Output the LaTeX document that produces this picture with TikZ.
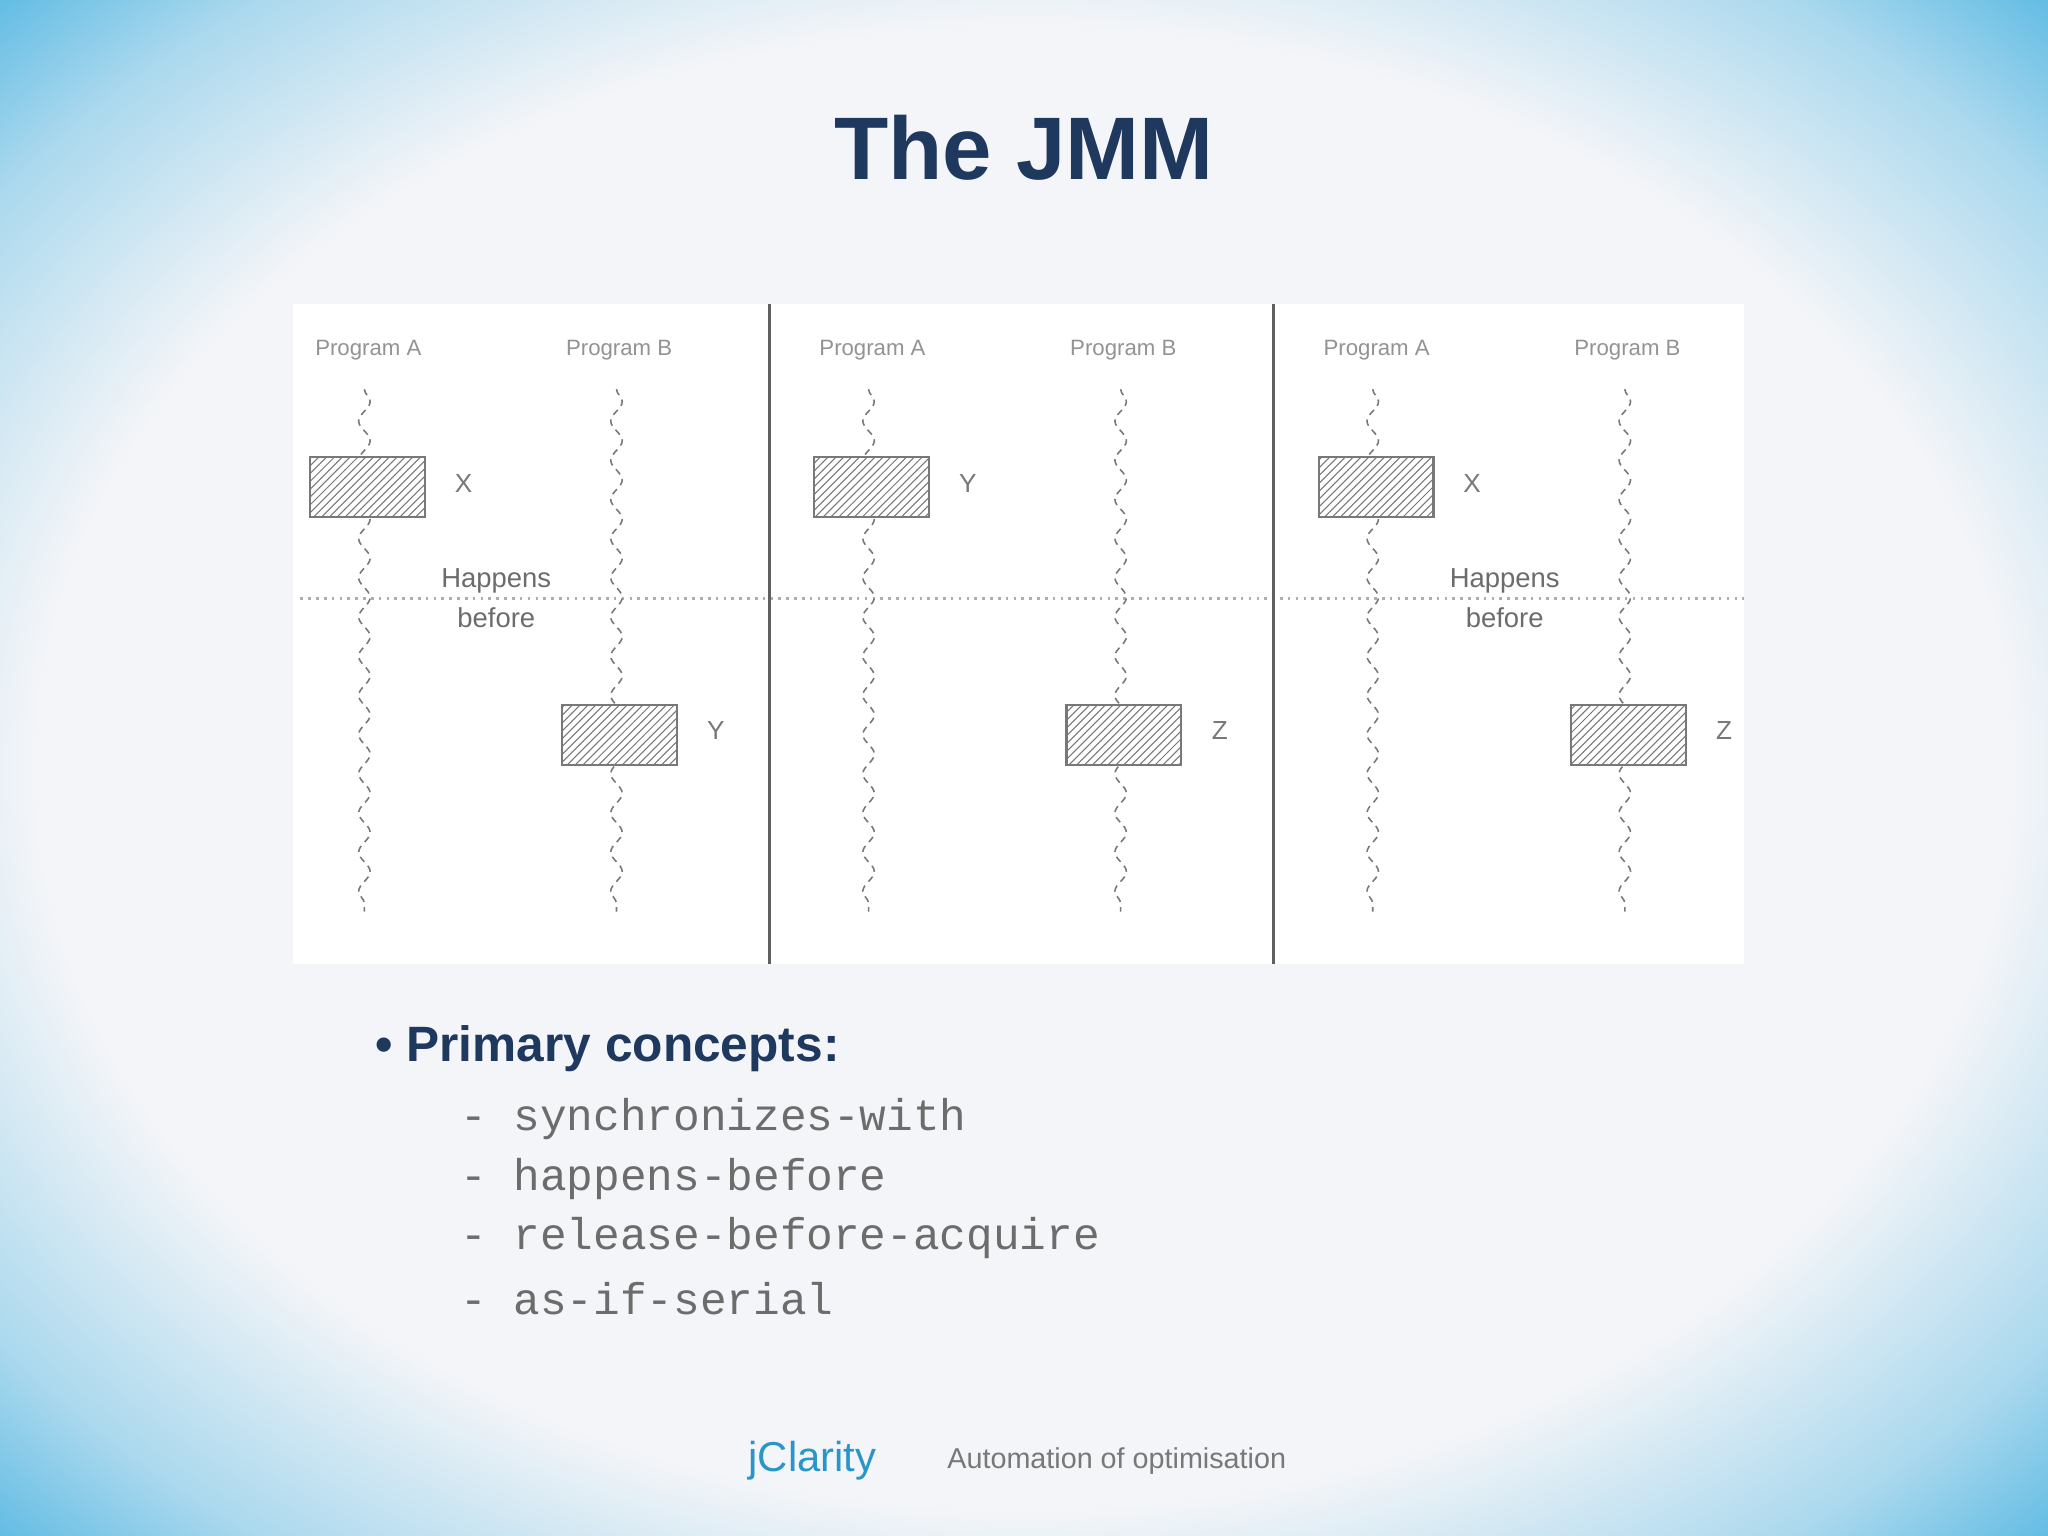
\documentclass[tikz,border=0pt]{standalone}
\usepackage{fontspec}
\setmainfont{Liberation Sans}
\newfontfamily\monofont{Liberation Mono}
\usetikzlibrary{patterns,decorations.pathmorphing}
\definecolor{navy}{RGB}{31,56,94}
\definecolor{skyblue}{RGB}{0,150,214}
\definecolor{paleback}{RGB}{244,245,248}
\definecolor{diagray}{RGB}{120,120,120}
\definecolor{clarity}{RGB}{40,150,200}
\tikzset{every picture/.style={line width=0.75pt}}
\tikzset{
  thread/.style={draw=diagray,dashed,dash pattern=on 2.5pt off 2pt,line width=0.6pt,
    decorate,decoration={snake,amplitude=2.2pt,segment length=15pt}},
  action/.style={draw=diagray,fill=white,line width=0.8pt,minimum width=44pt,minimum height=23pt,
    postaction={pattern=north east lines,pattern color=diagray}},
  proglabel/.style={text=diagray!80,font=\fontsize{8.5}{10}\selectfont},
  varlabel/.style={text=diagray,font=\fontsize{10}{12}\selectfont},
  hblabel/.style={text=diagray!90!black,font=\fontsize{10.5}{12}\selectfont,align=center},
  concept/.style={anchor=west,text=diagray!90!black,font=\monofont\fontsize{17}{20}\selectfont}
}
\pgfdeclareradialshading{slideback}{\pgfpoint{0cm}{0cm}}{%
  color(0cm)=(paleback); color(0.85cm)=(paleback); color(1.1cm)=(skyblue!30!paleback);
  color(1.35cm)=(skyblue!80!paleback); color(1.55cm)=(skyblue); color(2.5cm)=(skyblue)}

\begin{document}
\begin{tikzpicture}[x=0.5pt,y=0.5pt,yscale=-1,xscale=1]
% background
\shade[shading=slideback] (0,0) rectangle (1568,1176);
\useasboundingbox (0,0) rectangle (1568,1176);

% title
\node (title) [text=navy,font=\bfseries\fontsize{34}{40}\selectfont] at (784,113) {The JMM};

% diagram panel
\fill[white] (224,233) rectangle (1335,738);
\draw[diagray!60,dotted,line width=1pt] (230,458) -- (1335,458);
\draw[diagray!80!black,line width=1pt] (589,233) -- (589,738);
\draw[diagray!80!black,line width=1pt] (975,233) -- (975,738);

\foreach \dx/\la/\lb/\hb [count=\i] in {0/X/Y/1,386/Y/Z/0,772/X/Z/1}{
  \node (progA\i) [proglabel] at (282+\dx,268) {Program A};
  \node (progB\i) [proglabel] at (474+\dx,268) {Program B};
  \coordinate (topA\i) at (279+\dx,298);
  \coordinate (botA\i) at (279+\dx,698);
  \coordinate (topB\i) at (472+\dx,298);
  \coordinate (botB\i) at (472+\dx,698);
  \path[thread] (topA\i) -- (botA\i);
  \path[thread] (topB\i) -- (botB\i);
  \node (boxA\i) [action] at (281.5+\dx,373) {};
  \node (boxB\i) [action] at (474.5+\dx,562.5) {};
  \node (varA\i) [varlabel] at (355+\dx,370) {\la};
  \node (varB\i) [varlabel] at (548+\dx,559) {\lb};
  \ifnum\hb=1
    \node (hb\i) [hblabel] at (380+\dx,458) {Happens\\[3pt]before};
  \fi
}

% bullet list
\node (primary) [anchor=west,text=navy,font=\bfseries\fontsize{19}{22}\selectfont] at (280,803) {\textbullet\ Primary concepts:};
\node (c1) [concept] at (345,857) {- synchronizes-with};
\node (c2) [concept] at (345,903) {- happens-before};
\node (c3) [concept] at (345,948) {- release-before-acquire};
\node (c4) [concept] at (345,994) {- as-if-serial};

% footer
\node (logo) [text=clarity,font=\fontsize{16}{18}\selectfont] at (622,1118) {jClarity};
\node (slogan) [text=diagray,font=\fontsize{11}{13}\selectfont] at (855,1119) {Automation of optimisation};
\end{tikzpicture}
\end{document}
